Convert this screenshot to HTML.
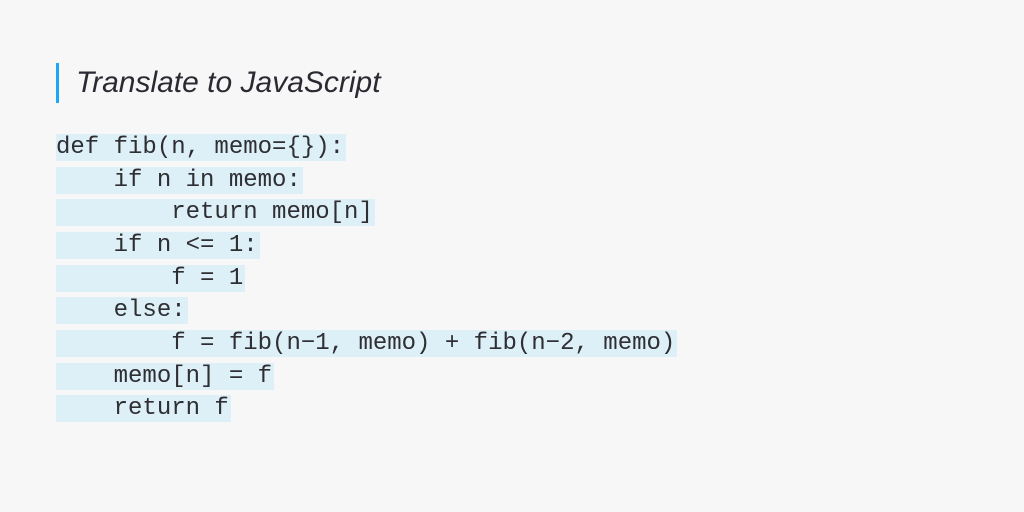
<!DOCTYPE html>
<html><head><meta charset="utf-8"><style>
html,body{margin:0;padding:0;}
body{width:1024px;height:512px;background:#f7f7f7;position:relative;overflow:hidden;}
.bar{position:absolute;left:56px;top:63px;width:3px;height:40px;background:#1aa9f2;}
.title{position:absolute;left:76px;top:65px;font:italic 30px "Liberation Sans",sans-serif;color:#2a2a33;line-height:36px;}
.l{position:absolute;left:56px;height:27px;line-height:28px;font:24px "Liberation Mono",monospace;color:#2e2e33;white-space:pre;background:#ddf0f8;padding-right:2px;}
</style></head><body>
<div class="bar"></div>
<div class="title">Translate to JavaScript</div>
<div class="l" style="top:134px">def fib(n, memo={}):</div>
<div class="l" style="top:167px">    if n in memo:</div>
<div class="l" style="top:199px">        return memo[n]</div>
<div class="l" style="top:232px">    if n &lt;= 1:</div>
<div class="l" style="top:265px">        f = 1</div>
<div class="l" style="top:297px">    else:</div>
<div class="l" style="top:330px">        f = fib(n−1, memo) + fib(n−2, memo)</div>
<div class="l" style="top:363px">    memo[n] = f</div>
<div class="l" style="top:395px">    return f</div>
</body></html>
